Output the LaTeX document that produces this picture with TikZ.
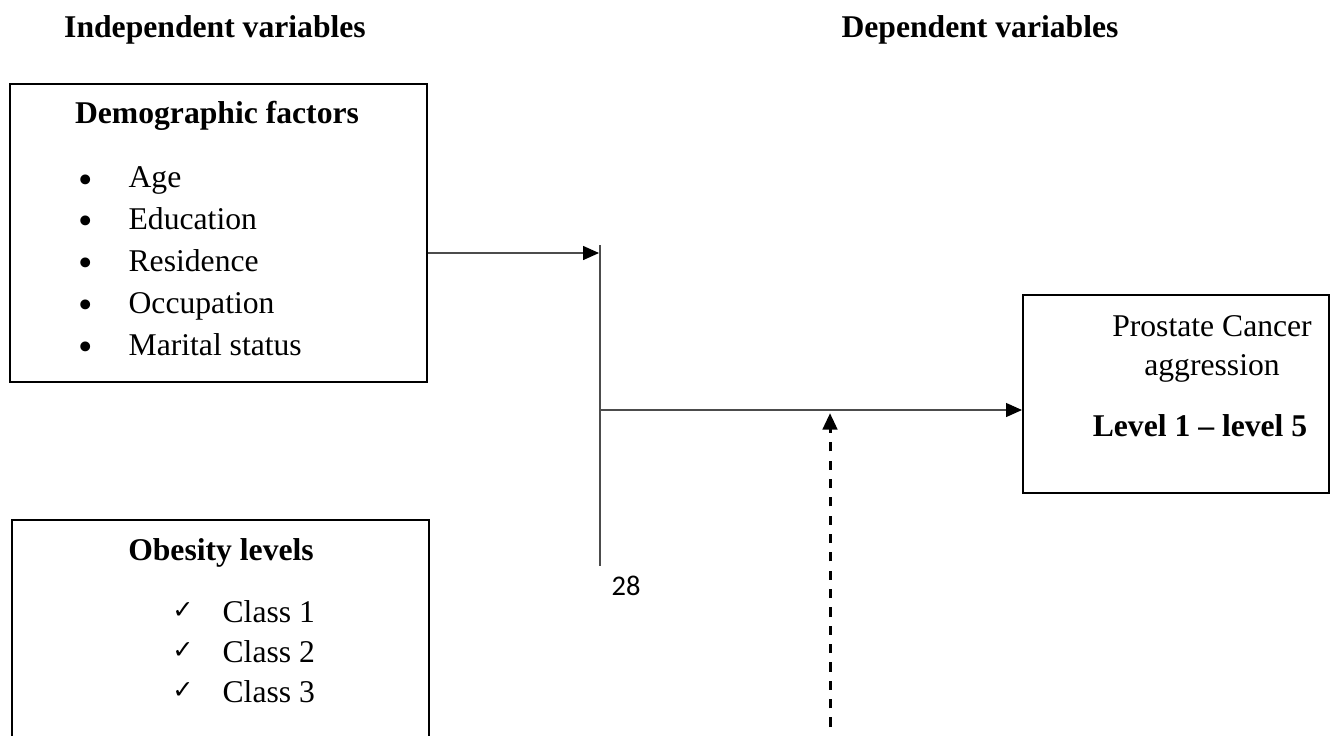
\documentclass[tikz,border=0pt]{standalone}
\usepackage{fontspec}
\setmainfont{Liberation Serif}
\newfontfamily\checkfont{DejaVu Sans}
\newfontfamily\pagefont{Carlito}
\usetikzlibrary{arrows.meta,fit,positioning}
\tikzset{
	box/.style={draw,line width=0.65pt,inner sep=0pt},
	head/.style={font=\bfseries,anchor=base},
	item/.style={anchor=base west,inner sep=0pt},
	symb/.style={anchor=base},
	conn/.style={draw=black!70,line width=0.35pt},
	tip/.style={-{Triangle[length=5pt,width=4.4pt,color=black]}},
	dashconn/.style={line width=0.95pt,dash pattern=on 2.9pt off 2.9pt,-{Triangle[length=5.2pt,width=4.6pt]}}
}
\begin{document}
\begin{tikzpicture}[x=0.316pt,y=-0.316pt]
	\useasboundingbox (0,0) rectangle (1332,735);
	\node[head] (indep) at (215,37) {Independent variables};
	\node[head] (dep) at (980,37) {Dependent variables};
	% demographic box
	\node[box,fit={(10,84) (427,382)}] (demo) {};
	\node[head] (demotitle) at (217,123) {Demographic factors};
	\foreach \t [count=\i] in {Age,Education,Residence,Occupation,Marital status}{
		\node[font=\fontsize{13}{13}\selectfont,inner sep=0pt] (db\i) at (86,{142+41.8*\i}) {\textbullet};
		\node[item] (d\i) at (128,{146+41.8*\i}) {\t};
	}
	% obesity box
	\node[box,fit={(12,520) (429,800)}] (obes) {};
	\node[head] (obestitle) at (221,560) {Obesity levels};
	\foreach \i in {1,2,3}{
		\node[font=\checkfont\fontsize{8}{8}\selectfont,inner sep=0pt] (ob\i) at (183,{571+40*\i}) {✓};
		\node[item] (o\i) at (222,{582+40*\i}) {Class \i};
	}
	% outcome box
	\node[box,fit={(1023,295) (1329,493)}] (prost) {};
	\node[symb] (p1) at (1212,336) {Prostate Cancer};
	\node[symb] (p2) at (1212,375) {aggression};
	\node[head] (p3) at (1200,436) {Level 1 -- level 5};
	\node[font=\pagefont\fontsize{9}{11}\selectfont] (pagenum) at (626,586) {28};
	% connectors
	\coordinate (bartop) at (600,245);
	\coordinate (barbot) at (600,566);
	\coordinate (arrowin) at (599,253);
	\coordinate (mid) at (600,410);
	\coordinate (dashfoot) at (830,745);
	\draw[conn,tip] (demo.east |- arrowin) -- (arrowin);
	\draw[conn] (bartop) -- (barbot);
	\draw[conn,tip] (mid) -- (mid -| prost.west);
	\draw[dashconn] (dashfoot) -- ([yshift=-1pt]dashfoot |- mid);
\end{tikzpicture}
\end{document}
